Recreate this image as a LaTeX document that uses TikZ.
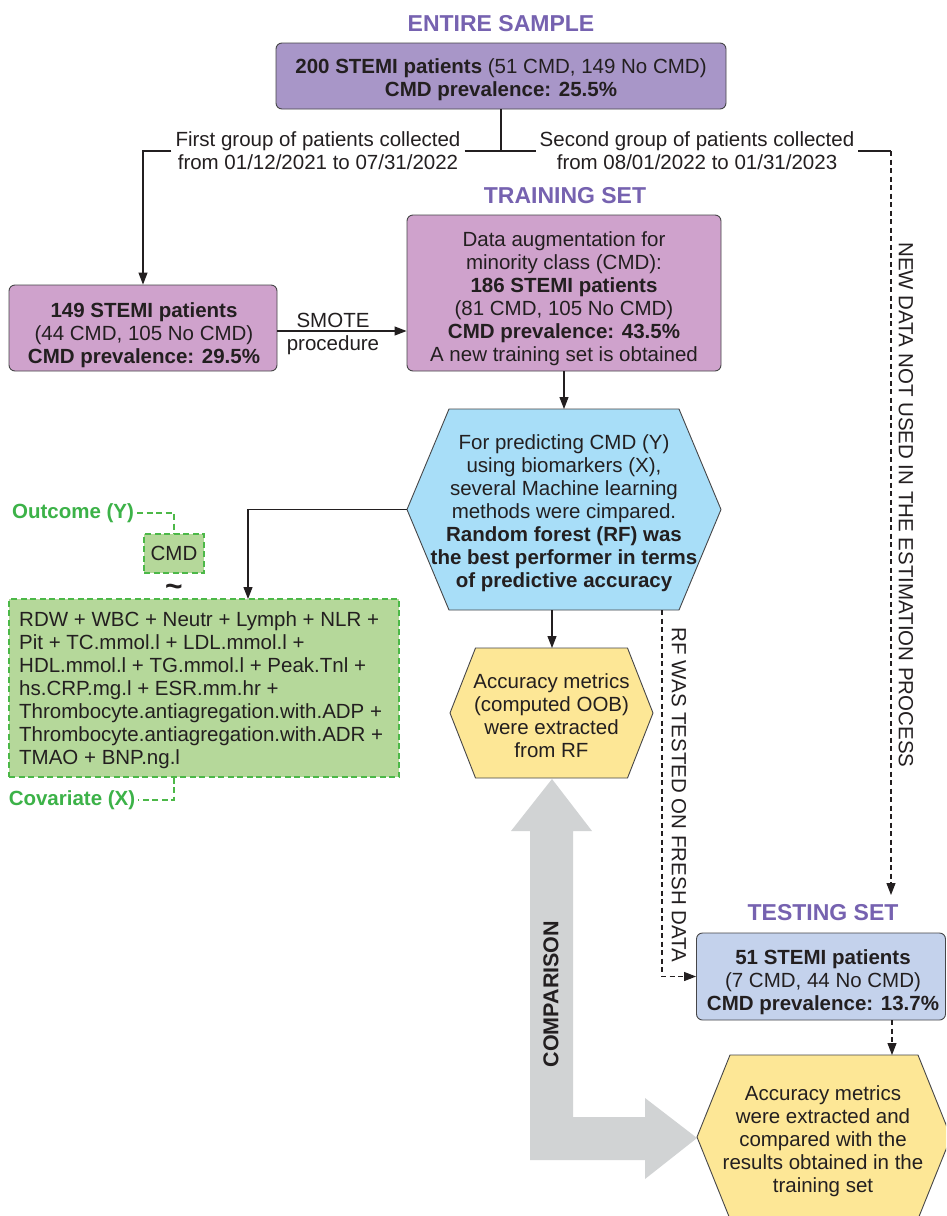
\documentclass[tikz,border=0pt]{standalone}
\usepackage{fontspec}
\setmainfont{Liberation Sans}
\usetikzlibrary{arrows.meta}

\definecolor{ink}{RGB}{35,31,32}
\definecolor{edge}{RGB}{70,70,72}
\definecolor{titlepurple}{RGB}{118,98,176}
\definecolor{lavender}{RGB}{168,150,200}
\definecolor{lilac}{RGB}{207,162,204}
\definecolor{skyblue}{RGB}{168,222,248}
\definecolor{paleyellow}{RGB}{253,231,150}
\definecolor{paleblue}{RGB}{196,210,236}
\definecolor{leaf}{RGB}{181,216,154}
\definecolor{leafedge}{RGB}{76,184,72}
\definecolor{labelgreen}{RGB}{60,178,72}
\definecolor{arrowgray}{RGB}{209,211,212}

% hexagon: style, centre x, centre y, outer half width, inner half width, half height
\newcommand{\drawhexagon}[6]{%
  \path[#1] (#2-#4,#3) -- (#2-#5,#3-#6) -- (#2+#5,#3-#6) -- (#2+#4,#3)
    -- (#2+#5,#3+#6) -- (#2-#5,#3+#6) -- cycle;}

\begin{document}
\begin{tikzpicture}[x=1pt,y=-1pt,
  every node/.style={font=\fontsize{20.5}{23}\selectfont, text=ink},
  box/.style={draw=edge, line width=0.9pt, rounded corners=6pt, inner sep=0pt},
  boxtext/.style={align=center, inner sep=0pt},
  heading/.style={font=\fontsize{23}{26}\selectfont\bfseries, text=titlepurple},
  lbl/.style={align=center, inner sep=4pt},
  conn/.style={draw=ink, line width=1.1pt},
  arr/.style={conn, -{Triangle[length=12pt,width=9pt]}},
  dconn/.style={conn, dash pattern=on 5pt off 3.5pt},
  gdash/.style={draw=leafedge, line width=1.2pt, dash pattern=on 6pt off 3.5pt},
  hexline/.style={draw=edge, line width=0.9pt},
  greenlabel/.style={font=\fontsize{20.5}{23}\selectfont\bfseries, text=labelgreen, inner sep=3pt},
]
\useasboundingbox (0,0) rectangle (946,1216);
\fill[white] (0,0) rectangle (946,1216);
\clip (0,0) rectangle (946,1216);

% ---------- entire sample ----------
\node[heading] (enttitle) at (501,24) {ENTIRE SAMPLE};
\node[box, fill=lavender, minimum width=450pt, minimum height=66pt] (all) at (501,76) {};
\node[boxtext] (alltext) at (501,80)
  {\textbf{200 STEMI patients} (51 CMD, 149 No CMD)\\\textbf{CMD prevalence: 25.5\%}};

% ---------- split into the two collection periods ----------
\coordinate (split) at (501,151);
\coordinate (newcorner) at (891,151);
\coordinate (newend) at (891,895);
\node[lbl] (firstgrp) at (318,151) {First group of patients collected\\from 01/12/2021 to 07/31/2022};
\node[lbl] (secondgrp) at (697,151) {Second group of patients collected\\from 08/01/2022 to 01/31/2023};

% ---------- training side ----------
\node[heading] (traintitle) at (565,196) {TRAINING SET};
\node[box, fill=lilac, minimum width=268pt, minimum height=86pt] (grpA) at (143,328) {};
\node[boxtext] (grpAtext) at (144,335)
  {\textbf{149 STEMI patients}\\(44 CMD, 105 No CMD)\\\textbf{CMD prevalence: 29.5\%}};
\node[box, fill=lilac, minimum width=314pt, minimum height=156pt] (train) at (564,293) {};
\node[boxtext] (traintext) at (564,299)
  {Data augmentation for\\minority class (CMD):\\\textbf{186 STEMI patients}\\(81 CMD, 105 No CMD)\\\textbf{CMD prevalence: 43.5\%}\\A new training set is obtained};
\node (smote) at (333,320) {SMOTE};
\node (proc) at (333,345) {procedure};

% random forest hexagon
\drawhexagon{hexline, fill=skyblue}{564}{509.5}{157}{115}{100.5}
\coordinate (rftop) at (564,409);
\coordinate (rfleft) at (407,509.5);
\coordinate (rfbot) at (552,610);
\coordinate (rftest) at (662,610);
\node[align=center] (rftext) at (564,513)
  {For predicting CMD (Y)\\using biomarkers (X),\\several Machine learning\\methods were cimpared.\\\textbf{Random forest (RF) was}\\\textbf{the best performer in terms}\\\textbf{of predictive accuracy}};

% model formula
\node[greenlabel] (outcome) at (73,513) {Outcome (Y)};
\node[fill=leaf, gdash, minimum width=60pt, minimum height=39pt, inner sep=0pt] (cmd) at (174,553.5) {CMD};
\node[font=\fontsize{30}{30}\selectfont\bfseries] (tilde) at (174,590) {\textasciitilde};
\node[fill=leaf, gdash, minimum width=390pt, minimum height=178pt,
      align=left, inner sep=0pt] (covbox) at (204,688) {};
\node[align=left, inner sep=0pt, anchor=west] (covtext) at (19,690)
  {RDW + WBC + Neutr + Lymph + NLR +\\Pit + TC.mmol.l + LDL.mmol.l +\\HDL.mmol.l + TG.mmol.l + Peak.Tnl +\\hs.CRP.mg.l + ESR.mm.hr +\\Thrombocyte.antiagregation.with.ADP +\\Thrombocyte.antiagregation.with.ADR +\\TMAO + BNP.ng.l};
\node[greenlabel] (covariate) at (72,800) {Covariate (X)};
\coordinate (greenin) at (248,599);

% comparison arrow
\fill[arrowgray] (552,779) -- (592,831) -- (573,831) -- (573,1117) -- (645,1117) -- (645,1098)
  -- (697,1138) -- (645,1179) -- (645,1160) -- (530,1160) -- (530,831) -- (511,831) -- cycle;
\node[rotate=90, font=\fontsize{21.5}{24}\selectfont\bfseries] (cmp) at (551,994) {COMPARISON};

% OOB metrics hexagon
\drawhexagon{hexline, fill=paleyellow}{551.5}{713}{101.5}{76}{65}
\coordinate (oobtop) at (552,648);
\node[align=center] (oobtext) at (551.5,716)
  {Accuracy metrics\\(computed OOB)\\were extracted\\from RF};

% ---------- testing side ----------
\node[heading] (testtitle) at (823,913) {TESTING SET};
\node[box, fill=paleblue, minimum width=249pt, minimum height=87pt] (test) at (821,976.5) {};
\node[boxtext] (testtext) at (823,982.5)
  {\textbf{51 STEMI patients}\\(7 CMD, 44 No CMD)\\\textbf{CMD prevalence: 13.7\%}};
\coordinate (testout) at (892,1020);
\coordinate (finaltop) at (892,1055);

\drawhexagon{hexline, fill=paleyellow}{824}{1137}{127}{94}{82}
\node[align=center] (finaltext) at (823,1141)
  {Accuracy metrics\\were extracted and\\compared with the\\results obtained in the\\training set};

% rotated annotations
\node[rotate=-90] (newdata) at (906,505) {NEW DATA NOT USED IN THE ESTIMATION PROCESS};
\node[rotate=-90] (fresh) at (679,795) {RF WAS TESTED ON FRESH DATA};

% ---------- connectors ----------
\draw[conn] (all.south) -- (split);
\draw[conn] (firstgrp.east) -- (secondgrp.west);
\draw[arr] (firstgrp.west) -| (grpA.north);
\draw[conn] (secondgrp.east) -- (newcorner);
\draw[arr, dconn] (newcorner) -- (newend);
\draw[arr] ([yshift=-3pt]grpA.east) -- ([yshift=-3pt]grpA.east -| train.west);
\draw[arr] (train.south) -- (rftop);
\draw[arr] (rfleft) -| (greenin);
\draw[arr] (rfbot) -- (oobtop);
\draw[arr, dconn] (rftest) |- (test.west);
\draw[arr, dconn] (testout) -- (finaltop);
\draw[gdash] (outcome.east) -| (cmd.north);
\draw[gdash] (cmd.south |- covbox.south) |- (covariate.east);
\end{tikzpicture}
\end{document}
